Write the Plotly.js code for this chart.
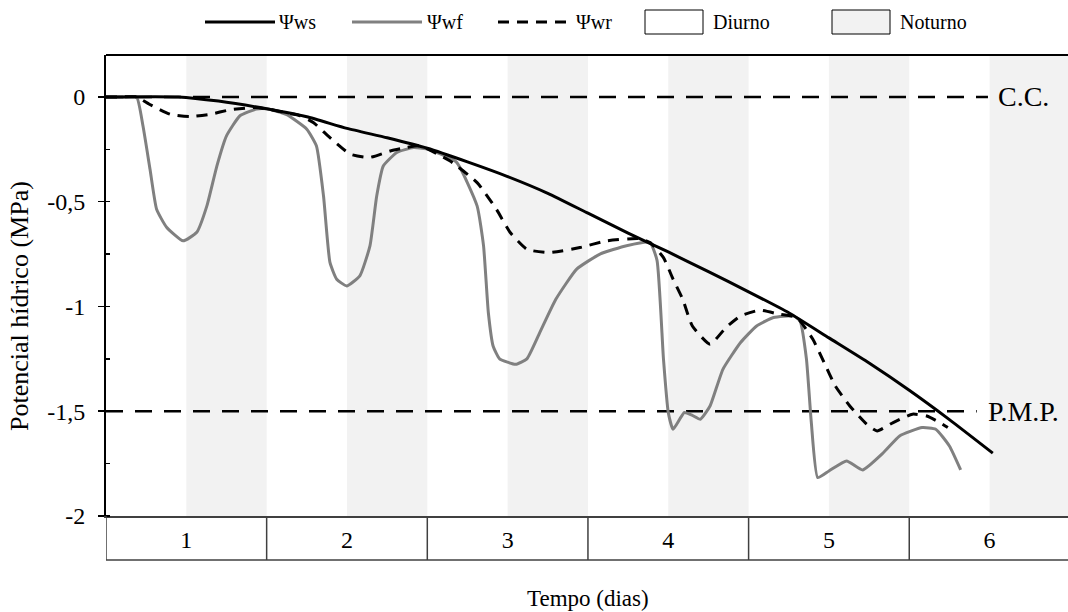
<!DOCTYPE html>
<html>
<head>
<meta charset="utf-8">
<script src="https://cdn.plot.ly/plotly-3.0.1.min.js"></script>
<style>html,body{margin:0;padding:0;background:#fff;}#chart{width:1068px;height:612px;}</style>
</head>
<body>
<div id="chart"></div>
<script>
// ---- data (x in days, y in MPa) ----
const wsX = [0, 0.45, 0.7, 1.0, 1.25, 1.5, 1.75, 2.0, 2.25, 2.5, 2.75, 3.0, 3.25, 3.5, 3.75, 4.0, 4.25, 4.5, 4.75, 5.0, 5.25, 5.52];
const wsY = [0, 0, -0.02, -0.057, -0.095, -0.15, -0.195, -0.245, -0.31, -0.38, -0.46, -0.555, -0.65, -0.74, -0.834, -0.93, -1.03, -1.15, -1.27, -1.40, -1.54, -1.70];

const wfX = [0, 0.1, 0.19, 0.23, 0.274, 0.315, 0.377, 0.48, 0.565, 0.628, 0.69, 0.75, 0.834, 0.937, 1.0, 1.125, 1.25, 1.31, 1.354, 1.394, 1.436, 1.498, 1.58, 1.643, 1.685, 1.726, 1.81, 1.913, 1.996, 2.18, 2.31, 2.35, 2.38, 2.41, 2.45, 2.55, 2.62, 2.70, 2.80, 2.93, 3.075, 3.24, 3.386, 3.43, 3.47, 3.50, 3.53, 3.60, 3.65, 3.70, 3.76, 3.84, 3.95, 4.05, 4.155, 4.28, 4.32, 4.36, 4.39, 4.43, 4.50, 4.61, 4.71, 4.84, 4.94, 5.08, 5.165, 5.25, 5.32];
const wfY = [0, 0, 0, -0.138, -0.345, -0.536, -0.622, -0.687, -0.646, -0.52, -0.33, -0.186, -0.09, -0.058, -0.057, -0.085, -0.154, -0.234, -0.473, -0.79, -0.87, -0.902, -0.854, -0.711, -0.473, -0.33, -0.265, -0.242, -0.248, -0.31, -0.52, -0.71, -1.03, -1.19, -1.25, -1.276, -1.25, -1.125, -0.966, -0.822, -0.75, -0.71, -0.695, -0.78, -1.25, -1.506, -1.586, -1.506, -1.52, -1.538, -1.475, -1.30, -1.172, -1.093, -1.053, -1.045, -1.069, -1.25, -1.55, -1.817, -1.785, -1.737, -1.78, -1.697, -1.618, -1.578, -1.586, -1.666, -1.78];

const wrX = [0, 0.1, 0.19, 0.27, 0.40, 0.52, 0.647, 0.77, 0.917, 1.0, 1.15, 1.21, 1.29, 1.394, 1.52, 1.64, 1.77, 1.87, 1.955, 2.14, 2.31, 2.43, 2.516, 2.62, 2.76, 2.95, 3.116, 3.32, 3.386, 3.47, 3.53, 3.59, 3.65, 3.76, 3.86, 3.95, 4.07, 4.19, 4.30, 4.40, 4.47, 4.54, 4.63, 4.735, 4.80, 4.90, 5.02, 5.11, 5.19, 5.24];
const wrY = [0, 0, 0, -0.035, -0.083, -0.094, -0.083, -0.062, -0.051, -0.057, -0.08, -0.09, -0.122, -0.194, -0.273, -0.289, -0.258, -0.242, -0.234, -0.305, -0.409, -0.536, -0.647, -0.727, -0.743, -0.719, -0.687, -0.676, -0.695, -0.767, -0.87, -0.966, -1.093, -1.18, -1.10, -1.045, -1.018, -1.037, -1.053, -1.157, -1.268, -1.38, -1.475, -1.562, -1.594, -1.554, -1.514, -1.523, -1.554, -1.578];

// reference levels
const ccX = [0, 5.49];  const ccY = [0, 0];
const pmpX = [0, 5.42]; const pmpY = [-1.5, -1.5];

// day / night periods
const dayBounds = [0, 1, 2, 3, 4, 5, 6];
const nightStart = [0.5, 1.5, 2.5, 3.5, 4.5, 5.5];
const nightEnd   = [1, 2, 3, 4, 5, 6];
const dayCenters = [0.5, 1.5, 2.5, 3.5, 4.5, 5.5];
const dayLabels  = ['1', '2', '3', '4', '5', '6'];

const yTickVals = [0, -0.5, -1, -1.5, -2];
const yTickText = ['0', '-0,5', '-1', '-1,5', '-2'];

// ---- layout helpers ----
const W = 1068, H = 612, L = 106, R = 0, T = 55, B = 96;
const pw = W - L - R, ph = H - T - B;
const px = v => (v - L) / pw;          // pixel x -> paper
const py = v => (H - B - v) / ph;      // pixel y -> paper
const FONT = '"Liberation Serif", "Times New Roman", Times, serif';
const fsLeg = 20, fsTick = 24, fsTitle = 23, fsRef = 28;

const traces = [
  {x: ccX, y: ccY, mode: 'lines', line: {color: '#000', width: 2.5, dash: '17px,12px'}, hoverinfo: 'skip', showlegend: false},
  {x: pmpX, y: pmpY, mode: 'lines', line: {color: '#000', width: 2.5, dash: '17px,12px'}, hoverinfo: 'skip', showlegend: false},
  {x: wfX, y: wfY, name: 'Ψwf', mode: 'lines', line: {color: '#808080', width: 3, shape: 'spline', smoothing: 0.45}, showlegend: false},
  {x: wrX, y: wrY, name: 'Ψwr', mode: 'lines', line: {color: '#000', width: 3, dash: '11px,8px', shape: 'spline', smoothing: 0.5}, showlegend: false},
  {x: wsX, y: wsY, name: 'Ψws', mode: 'lines', line: {color: '#000', width: 3, shape: 'spline', smoothing: 0.5}, showlegend: false}
];

const shapes = [];
// night shading
nightStart.forEach((s, i) => shapes.push({type: 'rect', xref: 'x', yref: 'paper', x0: s, x1: nightEnd[i], y0: 0, y1: 1, fillcolor: '#f2f2f2', line: {width: 0}, layer: 'below'}));
// top border
shapes.push({type: 'line', xref: 'paper', yref: 'paper', x0: 0, x1: 1, y0: 1, y1: 1, line: {color: '#000', width: 2}});
// table below the axis
const tblBottom = py(560);
shapes.push({type: 'line', xref: 'paper', yref: 'paper', x0: 0, x1: 1, y0: tblBottom, y1: tblBottom, line: {color: '#404040', width: 1.5}});
dayBounds.forEach(b => shapes.push({type: 'line', xref: 'x', yref: 'paper', x0: b, x1: b, y0: 0, y1: tblBottom, line: {color: '#404040', width: 1.5}}));

// manual legend
const ly = py(22);
shapes.push({type: 'line', xref: 'paper', yref: 'paper', x0: px(205), x1: px(275), y0: ly, y1: ly, line: {color: '#000', width: 3}});
shapes.push({type: 'line', xref: 'paper', yref: 'paper', x0: px(352), x1: px(422), y0: ly, y1: ly, line: {color: '#808080', width: 3}});
shapes.push({type: 'line', xref: 'paper', yref: 'paper', x0: px(498), x1: px(572), y0: ly, y1: ly, line: {color: '#000', width: 3, dash: '11px,8px'}});
shapes.push({type: 'rect', xref: 'paper', yref: 'paper', x0: px(645), x1: px(703), y0: py(10), y1: py(34), fillcolor: '#fff', line: {color: '#000', width: 1}});
shapes.push({type: 'rect', xref: 'paper', yref: 'paper', x0: px(832), x1: px(890), y0: py(10), y1: py(34), fillcolor: '#f2f2f2', line: {color: '#000', width: 1}});

const legendLabels = [['Ψws', 277], ['Ψwf', 425], ['Ψwr', 574], ['Diurno', 711], ['Noturno', 898]];
const annotations = legendLabels.map(([t, x]) => ({text: t, xref: 'paper', yref: 'paper', x: px(x), y: ly, xanchor: 'left', yanchor: 'middle', showarrow: false, font: {family: FONT, size: fsLeg, color: '#000'}}));

annotations.push({text: 'C.C.', xref: 'x', yref: 'y', x: 5.54, y: 0, xanchor: 'left', yanchor: 'middle', showarrow: false, font: {family: FONT, size: fsRef, color: '#000'}});
annotations.push({text: 'P.M.P.', xref: 'x', yref: 'y', x: 5.475, y: -1.5, xanchor: 'left', yanchor: 'middle', showarrow: false, font: {family: FONT, size: fsRef, color: '#000'}});
annotations.push({text: 'Potencial hídrico (MPa)', xref: 'paper', yref: 'paper', x: px(19), y: py(306), xanchor: 'center', yanchor: 'middle', textangle: -90, showarrow: false, font: {family: FONT, size: 26, color: '#000'}});
annotations.push({text: 'Tempo (dias)', xref: 'paper', yref: 'paper', x: px(588), y: py(598), xanchor: 'center', yanchor: 'middle', showarrow: false, font: {family: FONT, size: fsTitle, color: '#000'}});

const layout = {
  width: W, height: H,
  margin: {l: L, r: R, t: T, b: B, pad: 0},
  paper_bgcolor: '#fff', plot_bgcolor: 'rgba(0,0,0,0)',
  font: {family: FONT, size: fsTick, color: '#000'},
  showlegend: false,
  xaxis: {
    range: [0, pw / 160.65], showgrid: false, zeroline: false,
    showline: true, linecolor: '#404040', linewidth: 1.5,
    tickmode: 'array', tickvals: dayCenters, ticktext: dayLabels,
    ticks: '', ticklabelstandoff: 2, tickfont: {family: FONT, size: fsTick, color: '#000'},
    fixedrange: true
  },
  yaxis: {
    range: [-2, 0.2], showgrid: false, zeroline: false,
    showline: true, linecolor: '#000', linewidth: 2,
    tickmode: 'array', tickvals: yTickVals, ticktext: yTickText,
    ticks: 'outside', ticklen: 6, tickwidth: 1.5, tickcolor: '#000',
    ticklabelstandoff: 8,
    minor: {dtick: 0.25, ticks: 'inside', ticklen: 4, tickwidth: 1.5, tickcolor: '#000', showgrid: false},
    tickfont: {family: FONT, size: fsTick, color: '#000'},
    fixedrange: true
  },
  shapes: shapes,
  annotations: annotations
};

Plotly.newPlot('chart', traces, layout, {displayModeBar: false, staticPlot: true});
</script>
</body>
</html>
